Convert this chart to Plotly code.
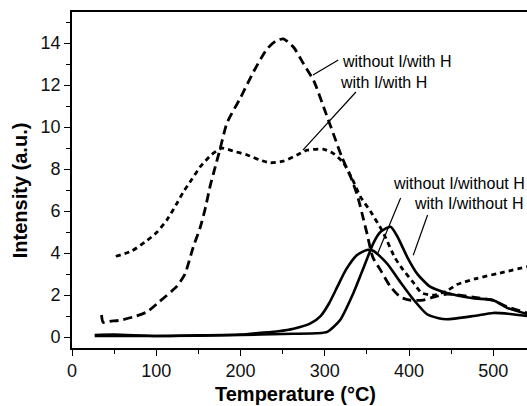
import plotly.graph_objects as go

# without I / with H  (long dashes)
a_x = [35, 37, 45, 57, 72, 89, 104, 124, 134, 144, 152, 158, 164, 170, 176, 184, 200, 215, 231, 242, 251, 263, 275, 287, 300, 310, 320, 332, 339, 346, 350, 357, 366, 378, 390, 401, 417, 429, 445, 476, 500, 516, 540]
a_y = [1.05, 0.7, 0.75, 0.8, 0.95, 1.2, 1.7, 2.4, 3.0, 4.3, 5.2, 6.1, 7.2, 8.1, 9.0, 10.2, 11.4, 12.6, 13.7, 14.1, 14.2, 13.8, 13.0, 12.2, 10.8, 9.7, 8.6, 7.5, 6.7, 5.6, 4.95, 3.8, 3.2, 2.4, 1.9, 1.76, 1.76, 1.9, 2.05, 1.9, 1.75, 1.45, 1.15]

# with I / with H  (short dashes)
b_x = [52, 71, 89, 101, 113, 125, 132, 142, 152, 166, 178, 191, 208, 223, 235, 251, 267, 279, 298, 310, 322, 333, 342, 354, 369, 383, 393, 405, 415, 430, 445, 457, 481, 508, 540]
b_y = [3.85, 4.1, 4.6, 5.0, 5.6, 6.4, 6.9, 7.5, 8.1, 8.7, 9.0, 8.86, 8.67, 8.43, 8.3, 8.38, 8.67, 8.9, 8.95, 8.75, 8.3, 7.5, 6.7, 6.0, 5.0, 3.8, 3.2, 2.6, 2.1, 2.0, 2.2, 2.5, 2.8, 3.05, 3.35]

# without I / without H  (solid)
c_x = [27, 50, 100, 150, 200, 223, 245, 263, 283, 295, 305, 315, 325, 338, 350, 358, 374, 390, 405, 421, 435, 445, 476, 500, 520, 540]
c_y = [0.1, 0.12, 0.05, 0.08, 0.12, 0.2, 0.28, 0.4, 0.65, 1.0, 1.6, 2.4, 3.2, 3.9, 4.15, 4.1, 3.5, 2.6, 1.8, 1.1, 0.9, 0.85, 1.0, 1.15, 1.1, 1.0]

# with I / without H  (solid)
d_x = [27, 100, 200, 250, 290, 303, 318, 334, 346, 358, 366, 378, 386, 398, 410, 425, 445, 476, 500, 516, 540]
d_y = [0.05, 0.05, 0.1, 0.15, 0.18, 0.25, 0.8, 2.1, 3.3, 4.5, 5.0, 5.25, 4.8, 3.8, 3.0, 2.4, 2.1, 1.85, 1.75, 1.4, 1.1]

labels = ["without I/with H", "with I/with H", "without I/without H", "with I/without H"]

FONT = "Liberation Sans, Arial, sans-serif"

fig = go.Figure()
fig.add_trace(go.Scatter(x=a_x, y=a_y, mode="lines", name=labels[0], line=dict(color="black", width=2.8, dash="9px,5px", shape="spline", smoothing=0.6)))
fig.add_trace(go.Scatter(x=b_x, y=b_y, mode="lines", name=labels[1], line=dict(color="black", width=2.8, dash="5px,4px", shape="spline", smoothing=0.6)))
fig.add_trace(go.Scatter(x=c_x, y=c_y, mode="lines", name=labels[2], line=dict(color="black", width=2.6, shape="spline", smoothing=0.6)))
fig.add_trace(go.Scatter(x=d_x, y=d_y, mode="lines", name=labels[3], line=dict(color="black", width=2.6, shape="spline", smoothing=0.6)))

# labels with leader lines
ann = [
    (labels[0], 318, 13.1, 286, 12.48, 316, 13.19),
    (labels[1], 316, 12.14, 274, 8.9, 337, 11.67),
    (labels[2], 378, 7.29, 363, 4.0, 390, 6.62),
    (labels[3], 404, 6.38, 405, 3.9, 422, 5.81),
]
for text, tx, ty, x0, y0, x1, y1 in ann:
    fig.add_shape(type="line", x0=x0, y0=y0, x1=x1, y1=y1, xref="x", yref="y", line=dict(color="black", width=1.2))
    fig.add_annotation(x=tx, y=ty, text=text, showarrow=False, xanchor="left", yanchor="middle",
                       font=dict(family=FONT, size=16, color="black"))

fig.add_annotation(x=0.492, y=-0.137, xref="paper", yref="paper", text="<b>Temperature (°C)</b>", showarrow=False,
                   xanchor="center", yanchor="middle", font=dict(family=FONT, size=20, color="black"))
fig.add_annotation(x=-0.114, y=0.47, xref="paper", yref="paper", text="<b>Intensity (a.u.)</b>", showarrow=False,
                   textangle=-90, xanchor="center", yanchor="middle", font=dict(family=FONT, size=20, color="black"))

axis_common = dict(showgrid=False, zeroline=False, showline=True, linecolor="black", linewidth=1.6,
                   ticks="outside", ticklen=6, tickwidth=1.4, tickcolor="black",
                   tickfont=dict(family=FONT, size=18, color="#111"))
fig.update_xaxes(range=[0, 540], dtick=100, tick0=0, mirror=True,
                 minor=dict(dtick=50, tick0=0, ticks="outside", ticklen=4, tickwidth=1.2, tickcolor="black"),
                 **axis_common)
fig.update_yaxes(range=[-0.52, 15.48], dtick=2, tick0=0,
                 minor=dict(dtick=1, tick0=0, ticks="outside", ticklen=4, tickwidth=1.2, tickcolor="black"),
                 **axis_common)

fig.update_layout(width=527, height=406, margin=dict(l=72, r=0, t=12, b=58),
                  plot_bgcolor="white", paper_bgcolor="white", showlegend=False,
                  font=dict(family=FONT))
fig.write_html("out.html", config={"displayModeBar": False},
               post_script="document.body.style.margin='0';document.body.style.overflow='hidden';")
